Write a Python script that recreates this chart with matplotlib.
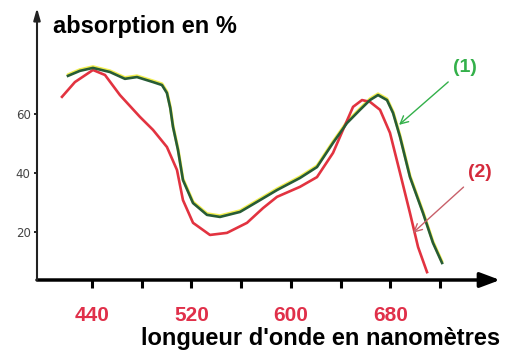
import numpy as np
import matplotlib.pyplot as plt
import matplotlib.transforms as mtransforms

# spectre (1) : longueur d'onde (nm), absorption (%)
nm_1 = [420.7, 430.3, 440.8, 454.5, 466.5, 476.2, 489.1, 496.3, 500.3, 503.0,
        505.2, 509.2, 513.2, 521.3, 532.5, 543.0, 559.1, 575.2, 588.8, 607.3,
        621.0, 633.9, 645.1, 655.6, 663.6, 670.1, 677.3, 682.2, 687.8, 695.8,
        706.3, 714.3, 721.6]
abs_1 = [72.9, 74.6, 75.6, 74.2, 71.9, 72.5, 70.8, 69.8, 67.1, 62.0,
         55.6, 47.8, 37.6, 29.8, 25.8, 25.1, 26.8, 30.8, 34.2, 38.3,
         42.0, 50.2, 56.9, 61.4, 64.7, 66.4, 64.7, 60.3, 52.2, 38.6,
         26.4, 16.3, 9.5]

# spectre (2)
nm_2 = [415.9, 426.3, 440.8, 450.5, 462.5, 478.6, 489.1, 500.3, 508.4, 513.2,
        521.3, 534.9, 548.6, 564.7, 577.6, 588.8, 607.3, 621.0, 633.9, 641.9,
        650.0, 657.2, 663.6, 671.7, 679.7, 687.8, 695.8, 702.3, 709.5]
abs_2 = [65.8, 70.8, 74.9, 73.2, 66.4, 59.0, 54.6, 48.8, 41.0, 30.8,
         23.1, 19.0, 19.7, 23.1, 28.1, 31.9, 35.3, 38.6, 46.8, 54.6,
         62.4, 64.7, 64.1, 61.4, 53.6, 40.0, 26.4, 14.9, 6.4]

x_ticks = [440, 480, 520, 560, 600, 640, 680, 720]
x_labels = ['440', '', '520', '', '600', '', '680', '']
y_ticks = [20, 40, 60]

W, H = 505, 356
fig = plt.figure(figsize=(W / 100, H / 100), dpi=100)
ax = fig.add_axes([37 / W, (H - 280) / H, (500 - 37) / W, (280 - 8) / H])
ax.set_xlim(395.8, 768.2)
ax.set_ylim(3.73, 95.9)
for s in ax.spines.values():
    s.set_visible(False)

# axes avec flèches
ax.annotate('', xy=(1, 0), xytext=(0, 0), xycoords='axes fraction',
            arrowprops=dict(arrowstyle='-|>,head_length=1.2,head_width=0.45',
                            color='black', lw=2.5, shrinkA=0, shrinkB=0))
ax.annotate('', xy=(0, 1), xytext=(0, 0), xycoords='axes fraction',
            arrowprops=dict(arrowstyle='-|>,head_length=0.7,head_width=0.2',
                            color='#222222', lw=1.5, shrinkA=0, shrinkB=0))

ax.set_xticks(x_ticks)
ax.set_xticklabels(x_labels, color='#e0304a', fontsize=15, fontweight='bold',
                   family='Liberation Sans')
ax.tick_params(axis='x', direction='out', length=6, width=2.2, pad=13)
ax.set_yticks(y_ticks)
ax.set_yticklabels([str(v) for v in y_ticks], fontsize=8.5, color='#444444')
ax.tick_params(axis='y', direction='out', length=2.5, width=1.2, pad=2)

# léger liseré jaune au-dessus de la courbe (1)
up = mtransforms.offset_copy(ax.transData, fig=fig, x=0, y=1.2, units='dots')
ax.plot(nm_1, abs_1, color='#f2ee50', lw=2.2, transform=up, solid_capstyle='round')
ax.plot(nm_2, abs_2, color='#e23340', lw=1.9, solid_joinstyle='round')
ax.plot(nm_1, abs_1, color='#275c36', lw=1.9, solid_joinstyle='round')

ax.annotate('(1)', xy=(687, 56.3), xytext=(740.3, 75.9), color='#33b04a',
            fontsize=14, fontweight='bold', ha='center', va='center',
            family='Liberation Sans',
            arrowprops=dict(arrowstyle='->', color='#33b04a', lw=1.0,
                            shrinkA=4, shrinkB=0))
ax.annotate('(2)', xy=(698.2, 19.7), xytext=(752.2, 40.3), color='#d42a3c',
            fontsize=14, fontweight='bold', ha='center', va='center',
            family='Liberation Sans',
            arrowprops=dict(arrowstyle='->', color='#c8606a', lw=1.0,
                            shrinkA=4, shrinkB=0))

fig.text(53 / W, 1 - 27 / H, 'absorption en %', fontsize=17, fontweight='bold',
         family='Liberation Sans', ha='left', va='center')
fig.text(500 / W, 1 - 339 / H, "longueur d'onde en nanomètres", fontsize=17,
         fontweight='bold', family='Liberation Sans', ha='right', va='center')

fig.savefig('out.png', dpi=100)
